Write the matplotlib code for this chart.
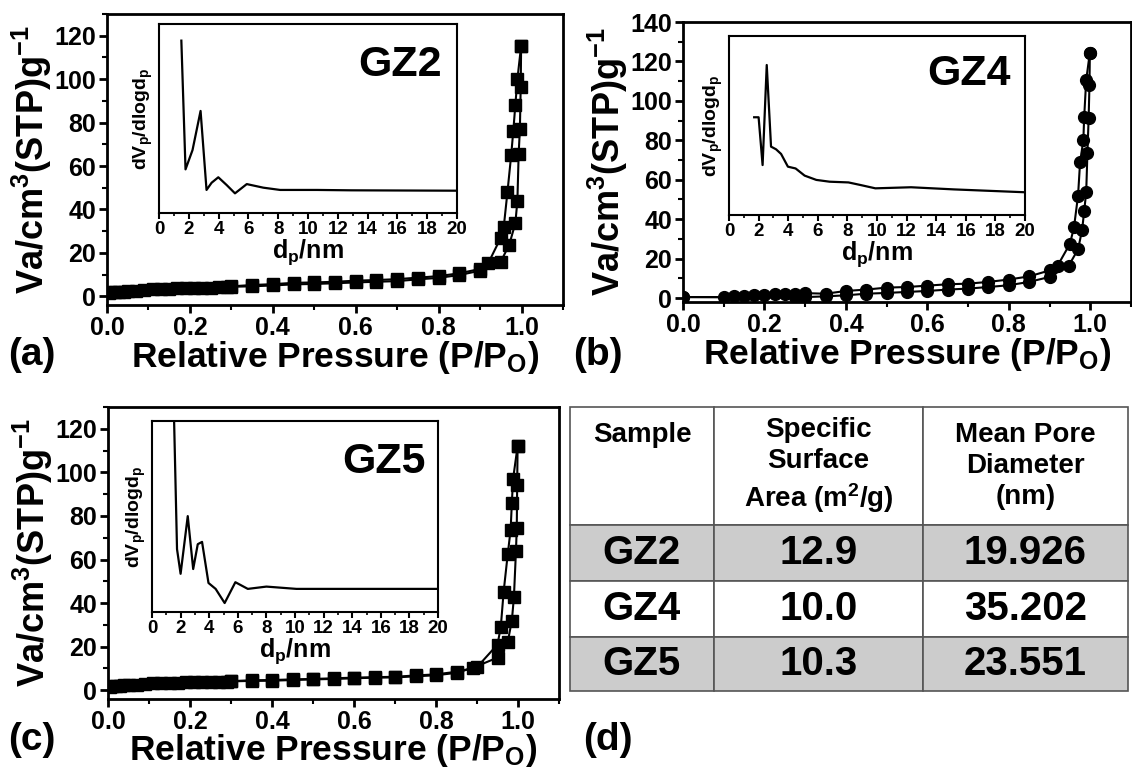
import matplotlib
matplotlib.use('Agg')
import matplotlib.pyplot as plt
from matplotlib.ticker import MultipleLocator

plt.rcParams['font.family'] = ['Liberation Sans', 'DejaVu Sans']
plt.rcParams['font.weight'] = 'bold'
plt.rcParams['axes.labelweight'] = 'bold'
plt.rcParams['mathtext.fontset'] = 'custom'
plt.rcParams['mathtext.rm'] = 'Liberation Sans:bold'
plt.rcParams['mathtext.bf'] = 'Liberation Sans:bold'
plt.rcParams['mathtext.it'] = 'Liberation Sans:bold'
plt.rcParams['mathtext.default'] = 'bf'

# ---- isotherm data ----
gz2_ads_p = [0.005, 0.01, 0.02, 0.03, 0.04, 0.05, 0.07, 0.09, 0.11, 0.13, 0.15, 0.17, 0.19,
             0.21, 0.23, 0.25, 0.27, 0.29, 0.30, 0.35, 0.40, 0.45, 0.50, 0.55, 0.60, 0.65,
             0.70, 0.75, 0.80, 0.85, 0.90, 0.95, 0.97, 0.985, 0.99, 0.993, 0.996, 0.998, 0.999]
gz2_ads_v = [1.6, 1.8, 2.0, 2.1, 2.2, 2.3, 2.5, 3.0, 3.2, 3.4, 3.5, 3.6, 3.7,
             3.8, 3.9, 4.0, 4.1, 4.3, 4.4, 4.6, 5.0, 5.5, 5.7, 6.0, 6.4, 6.7,
             7.0, 7.8, 8.5, 9.8, 11.8, 16.0, 23.6, 33.6, 44.0, 65.5, 77.0, 96.6, 115.4]
gz2_des_p = [0.999, 0.99, 0.985, 0.98, 0.975, 0.966, 0.957, 0.95, 0.92, 0.90, 0.85, 0.80,
             0.75, 0.70, 0.65, 0.60, 0.55, 0.50, 0.45, 0.40, 0.35, 0.30]
gz2_des_v = [115.4, 100.0, 88.0, 76.0, 65.0, 48.0, 31.8, 27.0, 15.4, 12.6, 10.6, 9.3,
             8.6, 7.9, 7.5, 7.2, 6.7, 6.4, 6.2, 5.6, 5.2, 4.6]

gz4_ads_p = [0.0, 0.275, 0.30, 0.35, 0.40, 0.45, 0.50, 0.55, 0.60, 0.65, 0.70, 0.75, 0.80,
             0.85, 0.90, 0.947, 0.97, 0.98, 0.985, 0.99, 0.993, 0.996, 0.998, 0.999]
gz4_ads_v = [0.5, 0.3, 0.5, 0.85, 1.4, 2.2, 2.6, 3.1, 3.6, 4.3, 4.8, 5.6, 6.5,
             8.2, 10.7, 16.4, 24.7, 34.6, 44.0, 53.7, 73.5, 91.4, 108.0, 124.5]
gz4_des_p = [0.999, 0.99, 0.985, 0.983, 0.975, 0.97, 0.96, 0.95, 0.92, 0.90, 0.85, 0.80,
             0.75, 0.70, 0.65, 0.60, 0.55, 0.50, 0.45, 0.40, 0.35, 0.30, 0.275, 0.25,
             0.225, 0.20, 0.175, 0.15, 0.125, 0.10, 0.0]
gz4_des_v = [124.5, 110.5, 91.7, 80.0, 69.0, 52.0, 35.8, 27.5, 16.5, 14.0, 11.0, 9.4,
             8.2, 7.3, 7.0, 6.3, 5.6, 5.3, 4.3, 3.6, 2.2, 2.5, 2.2, 2.2,
             1.9, 1.7, 1.5, 1.2, 0.85, 0.5, 0.5]

gz5_ads_p = [0.005, 0.01, 0.02, 0.03, 0.04, 0.05, 0.07, 0.09, 0.11, 0.13, 0.15, 0.17, 0.19,
             0.21, 0.23, 0.25, 0.27, 0.29, 0.30, 0.35, 0.40, 0.45, 0.50, 0.55, 0.60, 0.65,
             0.70, 0.75, 0.80, 0.85, 0.89, 0.95, 0.975, 0.985, 0.99, 0.995, 0.997, 0.998, 0.999]
gz5_ads_v = [1.6, 1.8, 2.0, 2.1, 2.2, 2.3, 2.5, 3.0, 3.2, 3.3, 3.4, 3.5, 3.6,
             3.7, 3.7, 3.8, 3.9, 4.0, 4.1, 4.3, 4.4, 4.7, 5.0, 5.2, 5.5, 5.8,
             5.9, 6.4, 6.9, 8.0, 10.3, 15.0, 22.2, 32.0, 42.6, 63.8, 74.6, 94.3, 112.0]
gz5_des_p = [0.999, 0.988, 0.985, 0.982, 0.975, 0.965, 0.958, 0.95, 0.90, 0.85, 0.80,
             0.75, 0.70, 0.65, 0.60, 0.55, 0.50, 0.45, 0.40, 0.35, 0.30]
gz5_des_v = [112.0, 97.0, 86.0, 73.6, 62.5, 45.3, 29.0, 21.0, 10.6, 8.5, 7.3,
             6.8, 6.2, 6.0, 5.8, 5.5, 5.2, 5.0, 4.7, 4.6, 4.2]

# ---- pore size distribution insets (relative units) ----
gz2_d = [1.5, 1.78, 2.25, 2.79, 3.19, 3.53, 3.98, 4.54, 5.1, 5.89, 7.0, 8.13, 10.6, 12.9, 20.0]
gz2_dv = [0.912, 0.231, 0.333, 0.54, 0.122, 0.16, 0.189, 0.148, 0.104, 0.153, 0.134, 0.122,
          0.122, 0.12, 0.118]
gz4_d = [1.7, 2.0, 2.27, 2.55, 2.84, 3.18, 3.52, 3.98, 4.5, 5.11, 5.9, 6.8, 8.07, 8.86,
         9.89, 12.3, 15.2, 20.0]
gz4_dv = [0.546, 0.546, 0.279, 0.838, 0.382, 0.367, 0.341, 0.27, 0.26, 0.22, 0.196, 0.186,
          0.182, 0.168, 0.149, 0.155, 0.143, 0.127]
gz5_d = [1.5, 1.75, 2.0, 2.5, 2.88, 3.2, 3.5, 3.95, 4.45, 5.08, 5.83, 6.7, 8.0, 10.1, 20.0]
gz5_dv = [1.15, 0.329, 0.2, 0.502, 0.225, 0.355, 0.367, 0.152, 0.121, 0.047, 0.156, 0.121,
          0.133, 0.121, 0.121]

# ---- table ----
col_labels = ['Sample\n\n', 'Specific\nSurface\nArea (m$^{2}$/g)', 'Mean Pore\nDiameter\n(nm)']
samples = ['GZ2', 'GZ4', 'GZ5']
surface_area = ['12.9', '10.0', '10.3']
pore_diameter = ['19.926', '35.202', '23.551']

W, H = 1132, 767
fig = plt.figure(figsize=(W / 100, H / 100), dpi=100)


def px_axes(l, r, t, b):
    return fig.add_axes([l / W, 1 - b / H, (r - l) / W, (b - t) / H])


def iso_panel(box, inbox, ads_p, ads_v, des_p, des_v, ymax, ymin, marker, d, dv, name, xpad=-1):
    ax = px_axes(*box)
    for p, v in [(ads_p, ads_v), (des_p, des_v)]:
        ax.plot(p, v, color='black', lw=1.5, marker=marker, ms=8.5, mfc='black', mec='black')
    ax.set_xlim(0, 1.1)
    ax.set_ylim(ymin, ymax)
    ax.xaxis.set_minor_locator(MultipleLocator(0.1))
    ax.yaxis.set_major_locator(MultipleLocator(20))
    ax.yaxis.set_minor_locator(MultipleLocator(10))
    ax.set_xticks([0, 0.2, 0.4, 0.6, 0.8, 1.0])
    ax.set_xticklabels(['0.0', '0.2', '0.4', '0.6', '0.8', '1.0'])
    ax.tick_params(which='major', direction='out', length=6, width=2, labelsize=18, pad=2)
    ax.tick_params(which='minor', direction='out', length=3.5, width=1.5)
    for s in ax.spines.values():
        s.set_linewidth(2)
    ax.set_xlabel('Relative Pressure (P/P$_\\mathbf{O}$)', fontsize=25.5, fontweight='bold',
                  labelpad=xpad)
    ax.set_ylabel('Va/cm$^\\mathbf{3}$(STP)g$^\\mathbf{-1}$', fontsize=26, fontweight='bold',
                  labelpad=0)

    ins = px_axes(*inbox)
    ins.plot(d, dv, color='black', lw=1.6)
    ins.set_xlim(0, 20)
    ins.set_ylim(0, 1)
    ins.xaxis.set_major_locator(MultipleLocator(2))
    ins.xaxis.set_minor_locator(MultipleLocator(1))
    ins.set_yticks([])
    ins.tick_params(which='major', direction='out', length=4, width=1.5, labelsize=13.5, pad=2)
    ins.tick_params(which='minor', direction='out', length=2.5, width=1.2)
    for s in ins.spines.values():
        s.set_linewidth(1.5)
    ins.set_xlabel('d$_\\mathbf{p}$/nm', fontsize=18, fontweight='bold', labelpad=-1)
    ins.set_ylabel('dV$_\\mathbf{p}$/dlogd$_\\mathbf{p}$', fontsize=14, fontweight='bold',
                   labelpad=3)
    ins.text(0.81, 0.785, name, transform=ins.transAxes, fontsize=31, fontweight='bold',
             ha='center', va='center')
    return ax


iso_panel((107, 563, 14, 305), (159, 457, 24, 213), gz2_ads_p, gz2_ads_v, gz2_des_p, gz2_des_v,
          130, -4, 's', gz2_d, gz2_dv, 'GZ2')
iso_panel((683, 1131, 22, 302), (729, 1025, 36, 215), gz4_ads_p, gz4_ads_v, gz4_des_p, gz4_des_v,
          140, -2, 'o', gz4_d, gz4_dv, 'GZ4')
iso_panel((108, 559, 407, 699), (152, 438, 421, 612), gz5_ads_p, gz5_ads_v, gz5_des_p, gz5_des_v,
          130, -4, 's', gz5_d, gz5_dv, 'GZ5', xpad=-1.5)

# table panel (d)
tax = px_axes(570, 1128, 407, 691)
tax.axis('off')
rows = [[s, a, p] for s, a, p in zip(samples, surface_area, pore_diameter)]
tbl = tax.table(cellText=[col_labels] + rows, colWidths=[144, 209, 205],
                cellLoc='center', bbox=[0, 0, 1, 1])
tbl.auto_set_font_size(False)
row_h = [118, 56, 56, 54]
for (r, c), cell in tbl.get_celld().items():
    cell.set_height(row_h[r])
    cell.set_edgecolor('#555555')
    cell.set_linewidth(1.2)
    txt = cell.get_text()
    txt.set_fontweight('bold')
    if r == 0:
        txt.set_fontsize(20)
        txt.set_linespacing(1.25)
        cell.set_facecolor('white')
    else:
        txt.set_fontsize(29)
        cell.set_facecolor('#cccccc' if r in (1, 3) else 'white')

for lab, x, y in [('(a)', 8, 355), ('(b)', 573, 355), ('(c)', 8, 740), ('(d)', 583, 740)]:
    fig.text(x / W, 1 - y / H, lab, fontsize=28, fontweight='bold', ha='left', va='center')

fig.savefig('out.png', dpi=100)
